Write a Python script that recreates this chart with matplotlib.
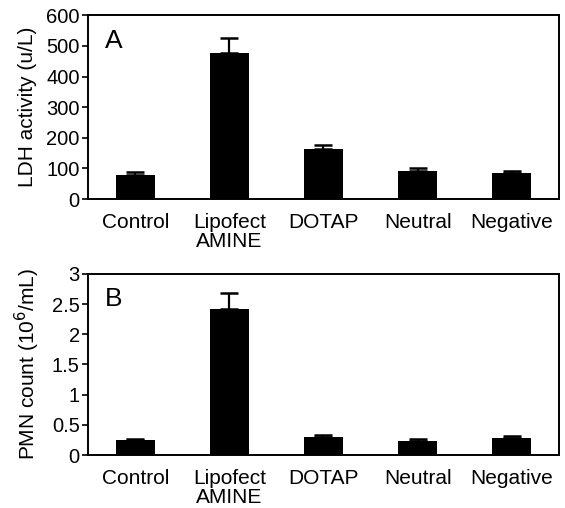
import numpy as np
import matplotlib
matplotlib.use('Agg')
import matplotlib.pyplot as plt

plt.rcParams['font.family'] = ['Liberation Sans', 'DejaVu Sans']

groups = ['Control', 'Lipofect\nAMINE', 'DOTAP', 'Neutral', 'Negative']

# LDH activity (u/L)
ldh_mean = [80, 477, 163, 92, 86]
ldh_err = [7, 49, 15, 11, 6]

# PMN count (10^6/mL)
pmn_mean = [0.25, 2.41, 0.30, 0.23, 0.28]
pmn_err = [0.02, 0.27, 0.04, 0.03, 0.035]

fig = plt.figure(figsize=(5.65, 5.08), dpi=100)
ax1 = fig.add_axes([0.156, 0.608, 0.833, 0.362])
ax2 = fig.add_axes([0.156, 0.104, 0.833, 0.357])

x = np.arange(len(groups))


def draw_panel(ax, mean, err, ylim, yticks, yticklabels, ylabel, tag):
    ax.bar(x, mean, width=0.41, color='black',
           yerr=[np.zeros(len(err)), err], capsize=6.5,
           error_kw=dict(ecolor='black', elinewidth=1.6, capthick=1.8))
    ax.set_xlim(-0.5, 4.5)
    ax.set_ylim(*ylim)
    ax.set_yticks(yticks)
    ax.set_yticklabels(yticklabels, fontsize=14.5)
    ax.set_xticks(x)
    ax.set_xticklabels(groups, fontsize=15, linespacing=1.0)
    ax.tick_params(axis='x', length=0, pad=10)
    ax.tick_params(axis='y', direction='out', length=4, width=1.2, pad=2)
    ax.set_ylabel(ylabel, fontsize=15, labelpad=7)
    for s in ax.spines.values():
        s.set_linewidth(1.4)
    ax.text(0.035, 0.82, tag, transform=ax.transAxes, fontsize=19)


draw_panel(ax1, ldh_mean, ldh_err, (0, 600),
           [0, 100, 200, 300, 400, 500, 600],
           ['0', '100', '200', '300', '400', '500', '600'],
           'LDH activity (u/L)', 'A')
draw_panel(ax2, pmn_mean, pmn_err, (0, 3),
           [0, 0.5, 1, 1.5, 2, 2.5, 3],
           ['0', '0.5', '1', '1.5', '2', '2.5', '3'],
           'PMN count (10$^6$/mL)', 'B')

fig.savefig('out.png', dpi=100, facecolor='white')
